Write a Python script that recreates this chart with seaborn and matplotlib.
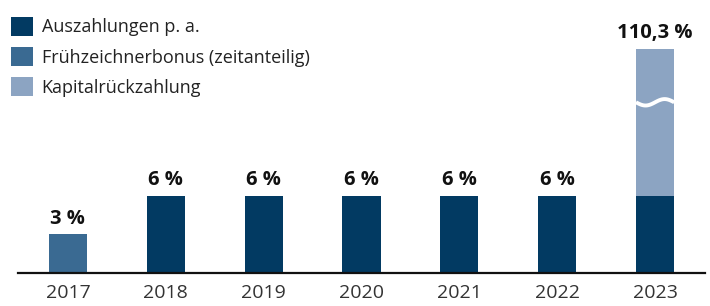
import numpy as np
import pandas as pd
import matplotlib
matplotlib.use("Agg")
import matplotlib.pyplot as plt
from matplotlib.patches import Patch
import seaborn as sns

years = ["2017", "2018", "2019", "2020", "2021", "2022", "2023"]
auszahlungen = [0, 6, 6, 6, 6, 6, 6]
bonus = [3, 0, 0, 0, 0, 0, 0]
kapital = [0, 0, 0, 0, 0, 0, 104.3]
value_labels = ["3 %", "6 %", "6 %", "6 %", "6 %", "6 %", "110,3 %"]
series_names = ["Auszahlungen p. a.", "Frühzeichnerbonus (zeitanteilig)", "Kapitalrückzahlung"]

C_DARK = "#023a62"
C_MID = "#3a6a92"
C_LIGHT = "#8ca4c2"

# broken axis: totals above BREAK_AT are drawn up to BREAK_TOP
BREAK_AT = 20
BREAK_TOP = 17.45

sns.set_theme(style="white")
plt.rcParams["font.family"] = ["Open Sans", "DejaVu Sans"]

fig = plt.figure(figsize=(7.10, 3.06), dpi=100)
ax = fig.add_axes([18 / 710, 33 / 306, 687 / 710, 256.7 / 306])

base = np.array(auszahlungen) + np.array(bonus)
total = base + np.array(kapital)
display_total = np.where(total > BREAK_AT, BREAK_TOP, total)

W = 0.39
sns.barplot(x=years, y=display_total, color=C_LIGHT, width=W, ax=ax,
            saturation=1, errorbar=None, linewidth=0)

df = pd.DataFrame({
    "year": years * 2,
    "value": auszahlungen + bonus,
    "Art": [series_names[0]] * len(years) + [series_names[1]] * len(years),
})
sns.barplot(data=df, x="year", y="value", hue="Art", dodge=False, width=W,
            palette={series_names[0]: C_DARK, series_names[1]: C_MID},
            saturation=1, errorbar=None, ax=ax, legend=False, linewidth=0)

for i, (lab, h) in enumerate(zip(value_labels, display_total)):
    ax.text(i, h + 0.45, lab, ha="center", va="bottom", fontsize=14.5,
            fontweight="bold", color="#111111")

# break marker (white wave) on broken bars
for i, t in enumerate(total):
    if t > BREAK_AT:
        xs = np.linspace(i - W / 2, i + W / 2, 60)
        ys = 13.3 + 0.25 * np.sin((xs - i) / (W / 2) * np.pi)
        ax.plot(xs, ys, color="white", lw=2.8, solid_capstyle="butt", zorder=5)

ax.set_xlim(-0.51, 6.51)
ax.set_ylim(0, 20)
ax.set_yticks([])
ax.set_xlabel("")
ax.set_ylabel("")
for s in ["left", "right", "top"]:
    ax.spines[s].set_visible(False)
ax.spines["bottom"].set_color("#111111")
ax.spines["bottom"].set_linewidth(1.6)
ax.tick_params(axis="x", length=0, pad=8, labelsize=14, labelcolor="#333333")

handles = [Patch(facecolor=c, edgecolor="none") for c in (C_DARK, C_MID, C_LIGHT)]
fig.legend(handles, series_names, loc="upper left",
           bbox_to_anchor=(11 / 710, 1 - 17 / 306), frameon=False, fontsize=13,
           handlelength=1.2, handleheight=1.2, handletextpad=0.5,
           labelspacing=0.6, borderpad=0, borderaxespad=0, labelcolor="#222222")

fig.savefig("out.png", dpi=100)
